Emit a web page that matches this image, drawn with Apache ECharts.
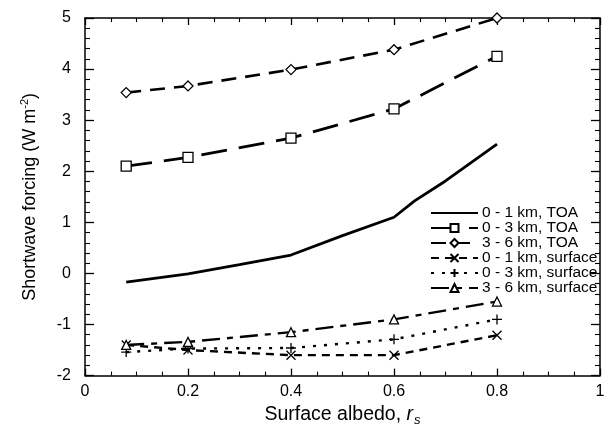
<!DOCTYPE html>
<html><head><meta charset="utf-8">
<script src="https://cdn.jsdelivr.net/npm/echarts@6/dist/echarts.min.js"></script>
<style>html,body{margin:0;padding:0;background:#fff}#c{width:616px;height:432px}</style>
</head><body><div id="c"></div>
<script>
// Data
const albedo = [0.08, 0.2, 0.4, 0.6, 0.8];
const albedoFine = [0.08, 0.2, 0.3, 0.4, 0.5, 0.6, 0.64, 0.7, 0.8];
const toa01 = [-0.17, -0.01, 0.17, 0.36, 0.74, 1.10, 1.42, 1.81, 2.53];
const toa03 = [2.10, 2.27, 2.65, 3.22, 4.25];
const toa36 = [3.54, 3.67, 3.99, 4.38, 5.00];
const sfc01 = [-1.40, -1.50, -1.60, -1.60, -1.21];
const sfc03 = [-1.54, -1.47, -1.46, -1.29, -0.90];
const sfc36 = [-1.40, -1.34, -1.15, -0.90, -0.55];
const names = ['0 - 1 km, TOA','0 - 3 km, TOA','3 - 6 km, TOA','0 - 1 km, surface','0 - 3 km, surface','3 - 6 km, surface'];
const xTicks = [0, 0.2, 0.4, 0.6, 0.8, 1];
const yTicks = [-2, -1, 0, 1, 2, 3, 4, 5];

const pair = (xs, ys) => xs.map((x, i) => [x, ys[i]]);
const FONT = 'Liberation Sans';
const xSym = 'path://M0,0L10,10M10,0L0,10';
const pSym = 'path://M5,0L5,10M0,5L10,5';

function mk(name, xs, ys, dash, symbol, size, width) {
  return {
    name, type: 'line', data: pair(xs, ys),
    symbol: symbol || 'none', symbolSize: size || 0, showSymbol: !!symbol,
    smooth: false, silent: true, animation: false,
    lineStyle: { color: '#000', width: width || 2.5, type: dash },
    itemStyle: { color: '#fff', borderColor: '#000', borderWidth: 1.3 },
    z: 3
  };
}

const axisCommon = {
  type: 'value', splitLine: { show: false },
  axisLine: { show: true, onZero: false, lineStyle: { color: '#000', width: 1.5 } },
  axisTick: { show: true, inside: true, length: 9, lineStyle: { color: '#000', width: 1.3 } },
  minorTick: { show: true, length: 5, lineStyle: { color: '#000', width: 1.1 } },
  minorSplitLine: { show: false }
};

const chart = echarts.init(document.getElementById('c'), null, { renderer: 'canvas' });
chart.setOption({
  animation: false,
  backgroundColor: '#fff',
  textStyle: { fontFamily: FONT, color: '#000' },
  grid: { left: 85, right: 16, top: 18, bottom: 55, containLabel: false },
  legend: {
    orient: 'vertical', left: 430, top: 205, padding: 0,
    itemWidth: 47, itemHeight: 10, itemGap: -1,
    data: names.map((n, i) => i === 0
      ? { name: n, itemStyle: { opacity: 0 } }
      : { name: n }),
    textStyle: { fontFamily: FONT, fontSize: 15.5, color: '#000', lineHeight: 15, padding: [0, 0, 0, -1] },
    inactiveColor: '#000'
  },
  xAxis: [
    Object.assign({}, axisCommon, {
      min: 0, max: 1, interval: 0.2, position: 'bottom',
      minorTick: Object.assign({}, axisCommon.minorTick, { splitNumber: 4, length: 4 }),
      axisTick: Object.assign({}, axisCommon.axisTick, { length: 7 }),
      axisLabel: { fontFamily: FONT, fontSize: 16, color: '#000', margin: 8,
        formatter: v => { const t = xTicks.find(k => Math.abs(k - v) < 1e-9); return t === undefined ? '' : String(t); } },
      name: 'Surface albedo, {it|r}{sub|s}', nameLocation: 'middle', nameGap: 24,
      nameTextStyle: { fontFamily: FONT, fontSize: 19.5, color: '#000',
        rich: { it: { fontFamily: FONT, fontSize: 19.5, fontStyle: 'italic', color: '#000' },
                sub: { fontFamily: FONT, fontSize: 13, fontStyle: 'italic', color: '#000', padding: [12, 0, 0, 1] } } }
    }),
    Object.assign({}, axisCommon, {
      min: 0, max: 1, interval: 0.2, position: 'top',
      minorTick: Object.assign({}, axisCommon.minorTick, { splitNumber: 4, length: 4 }),
      axisTick: Object.assign({}, axisCommon.axisTick, { length: 7 }),
      axisLabel: { show: false }
    })
  ],
  yAxis: [
    Object.assign({}, axisCommon, {
      min: -2, max: 5, interval: 1, position: 'left',
      minorTick: Object.assign({}, axisCommon.minorTick, { splitNumber: 5 }),
      axisLabel: { fontFamily: FONT, fontSize: 16, color: '#000', margin: 14,
        formatter: v => { const t = yTicks.find(k => Math.abs(k - v) < 1e-9); return t === undefined ? '' : String(t); } },
      name: 'Shortwave forcing (W m{sup|-2})', nameLocation: 'middle', nameGap: 44, nameRotate: 90,
      nameTextStyle: { fontFamily: FONT, fontSize: 18, color: '#000',
        rich: { sup: { fontFamily: FONT, fontSize: 11, color: '#000', padding: [0, 0, 11, 0] } } }
    }),
    Object.assign({}, axisCommon, {
      min: -2, max: 5, interval: 1, position: 'right',
      minorTick: Object.assign({}, axisCommon.minorTick, { splitNumber: 5 }),
      axisLabel: { show: false }
    })
  ],
  series: [
    mk(names[0], albedoFine, toa01, 'solid', null, 0, 2.8),
    mk(names[1], albedo, toa03, [26, 12], 'rect', 10, 2.8),
    mk(names[2], albedo, toa36, [15, 9], 'diamond', 10, 2.6),
    mk(names[3], albedo, sfc01, [8, 6], xSym, 9, 2.4),
    mk(names[4], albedo, sfc03, [3, 8], pSym, 10, 2.4),
    mk(names[5], albedo, sfc36, [18, 7, 6, 7], 'triangle', 9, 2.4)
  ]
});
</script>
</body></html>
